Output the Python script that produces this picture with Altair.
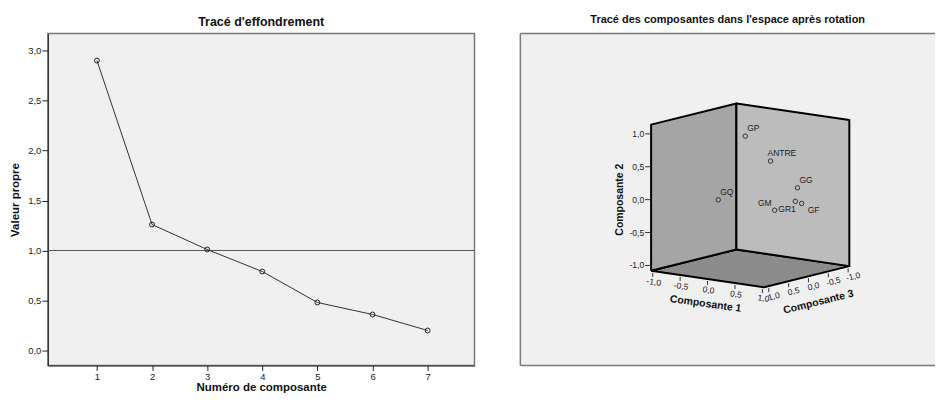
import altair as alt
import pandas as pd

FONT = "Liberation Sans"

# ---------------- Scree plot data ----------------
components = [1, 2, 3, 4, 5, 6, 7]
eigenvalues = [2.90, 1.26, 1.01, 0.79, 0.48, 0.36, 0.20]
y_ticks = [0.0, 0.5, 1.0, 1.5, 2.0, 2.5, 3.0]
reference_line = [1.0]

# ---------------- Rotated component loadings ----------------
variables = ["GP", "ANTRE", "GG", "GQ", "GM", "GR1", "GF"]
comp1 = [0.00, 0.41, 0.83, 0.05, 0.45, 0.79, 0.87]
comp2 = [0.95, 0.61, 0.24, 0.10, -0.14, 0.03, 0.00]
comp3 = [0.17, 0.10, 0.00, 0.92, 0.05, 0.00, -0.05]
cube_ticks = [-1.0, -0.5, 0.0, 0.5, 1.0]

# cube extent along each component
C1 = (-1.03, 1.03)
C2 = (-1.08, 1.14)
C3 = (-1.03, 1.12)

# oblique projection of the 3D space onto the panel (pixels per unit)
U1 = (55.0, 8.1)
U2 = (0.0, -66.0)
U3 = (-39.8, 9.9)
ORIGIN = (232.4, 163.9)

W1, H1 = 428, 333
W2, H2 = 416, 333


def proj(a, b, c):
    return (ORIGIN[0] + a * U1[0] + b * U2[0] + c * U3[0],
            ORIGIN[1] + a * U1[1] + b * U2[1] + c * U3[1])


def fmt(v):
    return f"{v:.1f}".replace(".", ",")


# ---------------- Left chart ----------------
scree = pd.DataFrame({"comp": components, "eig": eigenvalues})
xsc = alt.Scale(domain=[0.11, 7.85], nice=False, zero=False)
ysc = alt.Scale(domain=[-0.15, 3.17], nice=False, zero=False)

x_axis = alt.Axis(values=components, format="d", title="Numéro de composante",
                  grid=False, tickSize=5, labelPadding=1, titlePadding=1,
                  titleFontSize=11.5)
y_axis = alt.Axis(values=y_ticks, title="Valeur propre", grid=False, tickSize=6,
                  labelPadding=1, titlePadding=7, titleFontSize=11.5,
                  labelExpr="replace(format(datum.value, '.1f'), '.', ',')")

line = alt.Chart(scree).mark_line(color="#333333", strokeWidth=1).encode(
    x=alt.X("comp:Q", scale=xsc, axis=x_axis),
    y=alt.Y("eig:Q", scale=ysc, axis=y_axis),
)
pts = alt.Chart(scree).mark_point(shape="circle", size=24, filled=False,
                                  color="#222222", strokeWidth=1, opacity=1).encode(
    x=alt.X("comp:Q", scale=xsc), y=alt.Y("eig:Q", scale=ysc))
rule = alt.Chart(pd.DataFrame({"ref": reference_line})).mark_rule(
    color="#555555", strokeWidth=1).encode(y=alt.Y("ref:Q", scale=ysc))

left = alt.layer(rule, line, pts).properties(
    width=W1, height=H1,
    title=alt.Title("Tracé d'effondrement", fontSize=12.5, fontWeight="bold", offset=5),
)

# ---------------- Right chart (3D component plot) ----------------
xs = alt.Scale(domain=[0, W2], nice=False, zero=False)
ys = alt.Scale(domain=[0, H2], nice=False, zero=False, reverse=True)


def face_df(corners):
    rows = []
    for i, (a, b, c) in enumerate(corners + [corners[0]]):
        px, py = proj(a, b, c)
        rows.append({"i": i, "px": px, "py": py})
    return pd.DataFrame(rows)


lo1, hi1 = C1
lo2, hi2 = C2
lo3, hi3 = C3
faces = [
    ([(lo1, lo2, hi3), (hi1, lo2, hi3), (hi1, lo2, lo3), (lo1, lo2, lo3)], "#8c8c8c"),
    ([(lo1, lo2, hi3), (lo1, hi2, hi3), (lo1, hi2, lo3), (lo1, lo2, lo3)], "#a5a5a5"),
    ([(lo1, lo2, lo3), (lo1, hi2, lo3), (hi1, hi2, lo3), (hi1, lo2, lo3)], "#bcbcbc"),
]

layers = []
# panel frame: top, left and bottom borders (right border lies outside the window)
frame_style = dict(color="#7a7a7a", strokeWidth=1.5)
layers.append(alt.Chart(pd.DataFrame({"k": [0]})).mark_rule(**frame_style).encode(
    x=alt.value(0), x2=alt.value(W2), y=alt.value(0)))
layers.append(alt.Chart(pd.DataFrame({"k": [0]})).mark_rule(**frame_style).encode(
    x=alt.value(0), x2=alt.value(W2), y=alt.value(H2)))
layers.append(alt.Chart(pd.DataFrame({"k": [0]})).mark_rule(**frame_style).encode(
    x=alt.value(0), y=alt.value(0), y2=alt.value(H2)))

for corners, col in faces:
    layers.append(
        alt.Chart(face_df(corners)).mark_line(
            fill=col, stroke="black", strokeWidth=2, strokeJoin="round").encode(
            x=alt.X("px:Q", scale=xs, axis=None),
            y=alt.Y("py:Q", scale=ys, axis=None),
            order="i:Q",
        )
    )

# axis ticks and labels
rows2, rows1, rows3 = [], [], []
for t in cube_ticks:
    px, py = proj(lo1, t, hi3)
    rows2.append({"x": px - 6, "x2": px, "y": py, "y2": py, "lab": fmt(t), "lx": px - 7, "ly": py})
    px, py = proj(t, lo2, hi3)
    rows1.append({"x": px, "x2": px, "y": py + 2, "y2": py + 6, "lab": fmt(t), "lx": px + 1, "ly": py + 11})
    px, py = proj(hi1, lo2, t)
    rows3.append({"x": px, "x2": px, "y": py + 2, "y2": py + 6, "lab": fmt(t), "lx": px + 5, "ly": py + 10})
ticks = pd.DataFrame(rows2 + rows1 + rows3)
tick_layer = alt.Chart(ticks).mark_rule(color="#333333", strokeWidth=1).encode(
    x=alt.X("x:Q", scale=xs, axis=None), x2="x2:Q",
    y=alt.Y("y:Q", scale=ys, axis=None), y2="y2:Q")
layers.append(tick_layer)

lab_style = dict(fontSize=8.5, color="#222222", font=FONT)
layers.append(alt.Chart(pd.DataFrame(rows2)).mark_text(align="right", baseline="middle", **lab_style).encode(
    x=alt.X("lx:Q", scale=xs, axis=None), y=alt.Y("ly:Q", scale=ys, axis=None), text="lab:N"))
layers.append(alt.Chart(pd.DataFrame(rows1)).mark_text(align="center", baseline="middle", angle=8, **lab_style).encode(
    x=alt.X("lx:Q", scale=xs, axis=None), y=alt.Y("ly:Q", scale=ys, axis=None), text="lab:N"))
layers.append(alt.Chart(pd.DataFrame(rows3)).mark_text(align="center", baseline="middle", angle=346, **lab_style).encode(
    x=alt.X("lx:Q", scale=xs, axis=None), y=alt.Y("ly:Q", scale=ys, axis=None), text="lab:N"))

# axis titles
t2x, t2y = proj(lo1, 0.0, hi3)
t1x, t1y = proj(0.0, lo2, hi3)
t3x, t3y = proj(hi1, lo2, 0.0)
titles = [
    ("Composante 2", t2x - 31, t2y, 270),
    ("Composante 1", t1x - 2, t1y + 25, 8),
    ("Composante 3", t3x + 10, t3y + 26, 346),
]
for txt, tx, ty, ang in titles:
    layers.append(alt.Chart(pd.DataFrame({"t": [txt], "x": [tx], "y": [ty]})).mark_text(
        fontSize=10.5, fontWeight="bold", font=FONT, color="#111111", angle=ang,
        align="center", baseline="middle").encode(
        x=alt.X("x:Q", scale=xs, axis=None), y=alt.Y("y:Q", scale=ys, axis=None), text="t:N"))

# points
pos = [proj(a, b, c) for a, b, c in zip(comp1, comp2, comp3)]
loadings = pd.DataFrame({
    "var": variables, "c1": comp1, "c2": comp2, "c3": comp3,
    "px": [p[0] for p in pos], "py": [p[1] for p in pos],
})
layers.append(alt.Chart(loadings).mark_point(shape="circle", size=20, filled=False,
                                             color="#333333", strokeWidth=1, opacity=1).encode(
    x=alt.X("px:Q", scale=xs, axis=None), y=alt.Y("py:Q", scale=ys, axis=None)))

label_groups = [
    (["GP", "GG", "GQ"], 2, -8, "left"),
    (["ANTRE"], -3, -8, "left"),
    (["GM"], -3, -7, "right"),
    (["GR1"], -17, 8, "left"),
    (["GF"], 6, 7, "left"),
]
for names, dx, dy, al in label_groups:
    layers.append(alt.Chart(loadings).transform_filter(
        alt.FieldOneOfPredicate(field="var", oneOf=names)).mark_text(
        fontSize=8.5, font=FONT, color="#222222", dx=dx, dy=dy, align=al, baseline="middle").encode(
        x=alt.X("px:Q", scale=xs, axis=None), y=alt.Y("py:Q", scale=ys, axis=None), text="var:N"))

right = alt.layer(*layers).properties(
    width=W2, height=H2,
    view=alt.ViewConfig(stroke="transparent"),
    title=alt.Title("Tracé des composantes dans l'espace après rotation",
                    fontSize=11, fontWeight="bold", offset=8),
)

chart = alt.hconcat(left, right, spacing=42).properties(
    padding={"left": 1, "top": 4, "right": 0, "bottom": 0}
).configure_view(
    fill="#f0f0f0", stroke="#7a7a7a", strokeWidth=1.5
).configure_axis(
    labelFont=FONT, titleFont=FONT, labelFontSize=9.5, titleFontSize=11,
    titleFontWeight="bold", labelColor="#222222", titleColor="#111111",
    domainColor="#222222", tickColor="#222222"
).configure_title(font=FONT, color="#111111", anchor="middle")

chart.save("out.html", embed_options={"renderer": "svg", "actions": False})
